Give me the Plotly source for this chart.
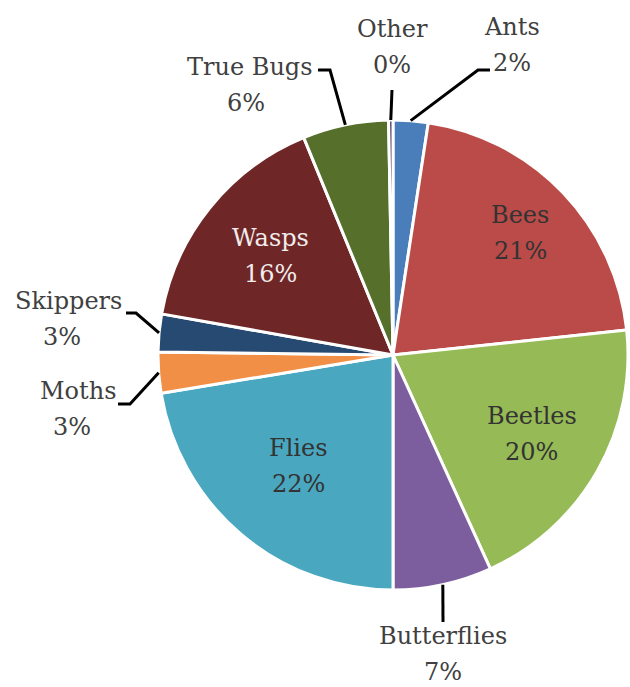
import math
import plotly.graph_objects as go

# Share of flower visits by insect group (percent)
groups = ["Ants", "Bees", "Beetles", "Butterflies", "Flies", "Moths",
          "Skippers", "Wasps", "True Bugs", "Other"]
shares = [2.4, 20.9, 19.9, 6.8, 22.4, 2.8, 2.6, 16.0, 5.9, 0.3]
colors = ["#4A7EBB", "#BA4B48", "#96BA55", "#7C5E9E", "#4AA7C0", "#F08F45",
          "#274A72", "#6E2726", "#56702C", "#4D3B62"]

W, H = 630, 687
CX, CY, R = 393, 355, 235          # pie centre and radius, pixels
FONT = "DejaVu Serif"
FS = 24
GAP = 36                           # distance between the two text lines


def px(x, y):
    """Pixel position -> paper coordinates."""
    return x / W, 1 - y / H


total = sum(shares)
pct_text = [f"{round(v / total * 100)}%" for v in shares]

# mid-angle of every slice, clockwise from 12 o'clock
mid_angle = []
acc = 0.0
for v in shares:
    mid_angle.append((acc + v / 2) / total * 360)
    acc += v


def on_circle(i, frac):
    a = math.radians(mid_angle[i])
    return CX + frac * R * math.sin(a), CY - frac * R * math.cos(a)


fig = go.Figure(go.Pie(
    labels=groups, values=shares, sort=False, direction="clockwise",
    rotation=0, marker=dict(colors=colors, line=dict(color="white", width=3)),
    textinfo="none", hoverinfo="label+percent", showlegend=False,
    domain=dict(x=[(CX - R) / W, (CX + R) / W],
                y=[1 - (CY + R) / H, 1 - (CY - R) / H]),
))

annotations = []
shapes = []


def add_label(i, x, y, color, dx_pct=0):
    """Two-line label: group name above, rounded percentage below."""
    for text, yy, xx in ((groups[i], y - GAP / 2, x),
                         (pct_text[i], y + GAP / 2, x + dx_pct)):
        ax, ay = px(xx, yy)
        annotations.append(dict(x=ax, y=ay, xref="paper", yref="paper",
                                text=text, showarrow=False,
                                font=dict(family=FONT, size=FS, color=color),
                                xanchor="center", yanchor="middle"))


# labels placed inside the large slices
inside = {"Bees": (0.75, "#333333"), "Beetles": (0.68, "#333333"),
          "Flies": (0.62, "#333333"), "Wasps": (0.67, "#F2ECEC")}
for name, (frac, col) in inside.items():
    i = groups.index(name)
    add_label(i, *on_circle(i, frac), col)

# outside labels: text centre (pixels), shift of the % line, leader elbows
outside = {
    "Other":       ((392, 47),  0,  [(392, 90)]),
    "Ants":        ((512, 45),  0,  [(490, 70), (478, 70)]),
    "True Bugs":   ((250, 85),  -4, [(318, 70), (330, 70)]),
    "Skippers":    ((68, 319),  -6, [(126, 313), (136, 313)]),
    "Moths":       ((78, 409),  -6, [(118, 404), (130, 404)]),
    "Butterflies": ((443, 654), 0,  [(443, 622)]),
}
for name, (pos, dxp, elbows) in outside.items():
    i = groups.index(name)
    add_label(i, pos[0], pos[1], "#404040", dxp)
    pts = elbows + [on_circle(i, 1.0)]
    path = "M " + " L ".join(f"{px(x, y)[0]:.5f},{px(x, y)[1]:.5f}" for x, y in pts)
    shapes.append(dict(type="path", path=path, xref="paper", yref="paper",
                       line=dict(color="black", width=3)))

fig.update_layout(
    width=W, height=H, margin=dict(l=0, r=0, t=0, b=0),
    paper_bgcolor="white", plot_bgcolor="white",
    font=dict(family=FONT),
    annotations=annotations, shapes=shapes,
)

fig.write_html("out.html")
